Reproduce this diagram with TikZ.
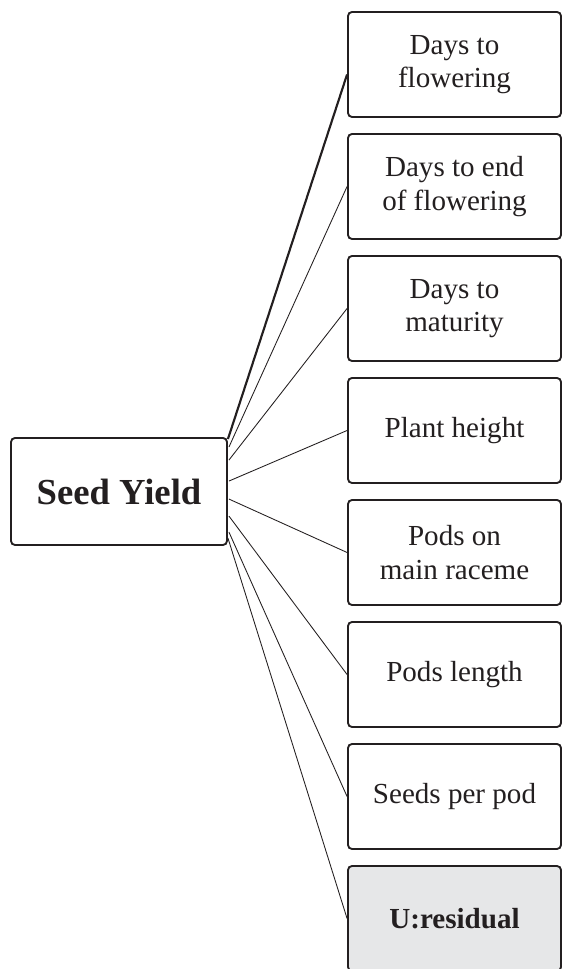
\documentclass[tikz,border=0pt]{standalone}
\usepackage{fontspec}
\setmainfont{Liberation Serif}
\usetikzlibrary{calc}
\definecolor{Ink}{HTML}{231F20}
\definecolor{ResidFill}{HTML}{E6E7E8}

\begin{document}
\begin{tikzpicture}[x=0.75pt, y=0.75pt,
  trait/.style={draw=Ink, line width=1.4pt, rounded corners=3pt, minimum width=159.75pt, minimum height=78.75pt, inner sep=0pt, align=center, text=Ink, font=\fontsize{21.8}{25}\selectfont},
  yield/.style={trait, minimum width=162pt, minimum height=80.25pt, font=\fontsize{27.5}{30}\selectfont\bfseries},
  path/.style={draw=Ink, line width=0.65pt},
]
\useasboundingbox (0,0) rectangle (562,969);
\def\xr{454.5}
% ---------------- response
\node[yield] (SY) at (119,477.5) {Seed Yield};
% ---------------- component traits
\node[trait] (DF) at (\xr,904.5) {Days to\\ flowering};
\node[trait] (DE) at (\xr,782.5) {Days to end\\ of flowering};
\node[trait] (DM) at (\xr,660.5) {Days to\\ maturity};
\node[trait] (PH) at (\xr,538.5) {Plant height};
\node[trait] (PR) at (\xr,416.5) {Pods on\\ main raceme};
\node[trait] (PL) at (\xr,294.5) {Pods length};
\node[trait] (SP) at (\xr,172.5) {Seeds per pod};
\node[trait, fill=ResidFill, font=\fontsize{21.8}{25}\selectfont\bfseries] (UR) at (\xr,50.5) {U:residual};
% ---------------- paths
\draw[path, line width=1.6pt] ($(SY.north east)+(0,-2)$) -- ($(DF.west)+(0,-10)$);
\draw[path] ($(SY.north east)+(1,-10)$) -- (DE.west);
\draw[path] ($(SY.north east)+(1,-23)$) -- (DM.west);
\draw[path] ($(SY.north east)+(1,-44)$) -- (PH.west);
\draw[path] ($(SY.north east)+(1,-62)$) -- (PR.west);
\draw[path] ($(SY.north east)+(1,-79)$) -- (PL.west);
\draw[path] ($(SY.north east)+(1,-95)$) -- (SP.west);
\draw[path] ($(SY.north east)+(0,-101)$) -- (UR.west);
\end{tikzpicture}
\end{document}
